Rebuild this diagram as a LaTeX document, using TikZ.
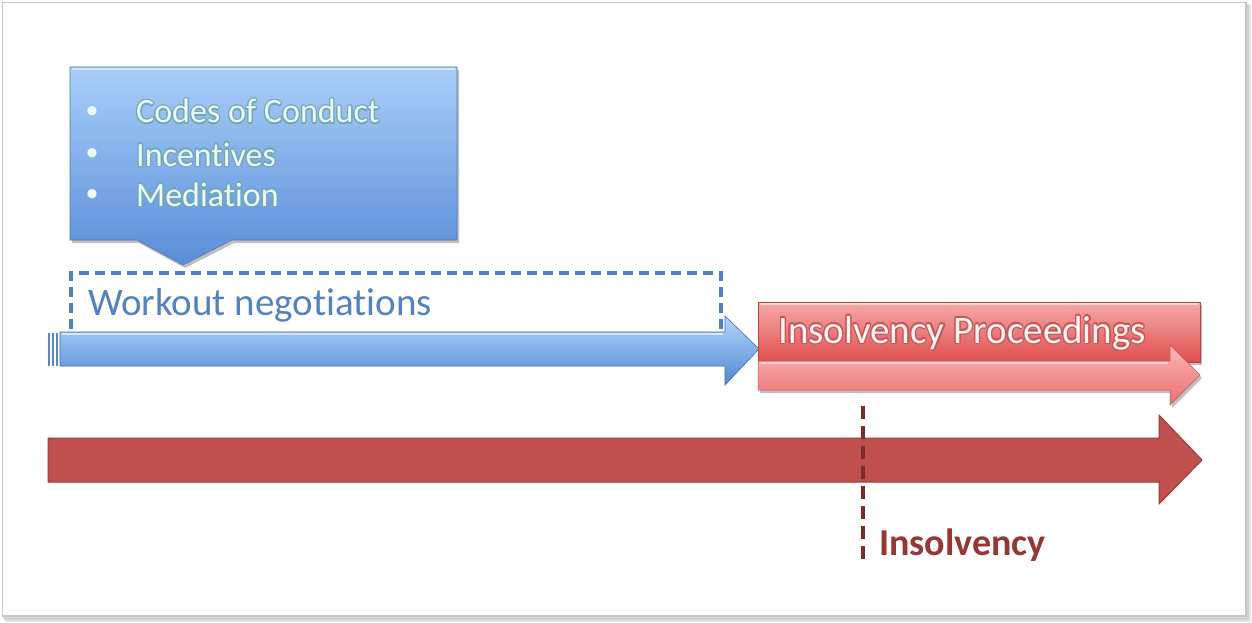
\documentclass[tikz,border=0pt]{standalone}
\usepackage{fontspec}
\setmainfont{Carlito}[Ligatures={NoCommon,NoContextual}]
\usepackage{contour}
\contourlength{1.2pt}
\usetikzlibrary{shadows,calc}
\definecolor{calltop}{HTML}{A9CEF9}
\definecolor{callbot}{HTML}{5A8DD8}
\definecolor{dashblue}{HTML}{4F81BD}
\definecolor{wtext}{HTML}{5283BE}
\definecolor{bartop}{HTML}{B4D6FB}
\definecolor{barbot}{HTML}{5088D2}
\definecolor{boxtop}{HTML}{F6A9A9}
\definecolor{boxbot}{HTML}{E04E4E}
\definecolor{rarrtop}{HTML}{F9B8B8}
\definecolor{rarrbot}{HTML}{EE6E6E}
\definecolor{bigred}{HTML}{C0504D}
\definecolor{bigredline}{HTML}{9A3B39}
\definecolor{insline}{HTML}{7A2B2B}
\definecolor{instext}{HTML}{953735}
\definecolor{bullettext}{HTML}{EEFAF8}
\definecolor{bulletglow}{HTML}{6FA9B6}
\definecolor{proctext}{HTML}{FFF4F4}
\definecolor{procglow}{HTML}{C85656}
\tikzset{
  bulletitem/.style={anchor=base west, inner sep=0pt, font=\fontsize{34}{38}\selectfont, text=bullettext},
  bulletdot/.style={anchor=center, inner sep=0pt, font=\fontsize{26}{30}\selectfont, text=bullettext},
  softshadow/.style={drop shadow={shadow xshift=2pt, shadow yshift=-3pt, opacity=0.25, fill=black}},
}
\begin{document}
\begin{tikzpicture}[x=1pt,y=-1pt]
\useasboundingbox (0,0) rectangle (1252,623);
% frame with shadow
\fill[black!10] (5,5) rectangle (1251,622);
\fill[black!18] (4,4) rectangle (1249,620);
\draw[fill=white, draw=black!22, line width=1.2pt] (2.5,2.5) rectangle (1246,616);

% callout
\path[softshadow, top color=calltop, bottom color=callbot, draw=callbot!85!black, line width=0.6pt]
  (70,67) -- (457,67) -- (457,240) -- (232,240) -- (183,265) -- (137,240) -- (70,240) -- cycle;
\draw[white, opacity=0.5, line width=1.5pt] (72,69) -- (455,69);

\node[bulletdot] (b1) at (92,113) {•};
\node[bulletdot] (b2) at (92,155) {•};
\node[bulletdot] (b3) at (92,196) {•};
\node[bulletitem] (t1) at (136,123) {\contour{bulletglow}{Codes of Conduct}};
\node[bulletitem] (t2) at (136,166) {\contour{bulletglow}{Incentives}};
\node[bulletitem] (t3) at (136,206) {\contour{bulletglow}{Mediation}};

% dashed workout box
\draw[dashblue, line width=3.4pt, dash pattern=on 10pt off 6pt] (71,345) -- (71,273) -- (721,273) -- (721,345);
\node[anchor=base west, inner sep=0pt, font=\fontsize{39}{43}\selectfont, text=wtext] (work) at (88,315) {Workout negotiations};

% blue arrow
\path[top color=bartop, bottom color=barbot, draw=barbot!80!black, line width=0.6pt]
  (60,332) -- (725,332) -- (725,316) -- (759,349) -- (725,385) -- (725,366) -- (60,366) -- cycle;
\draw[white, opacity=0.6, line width=1.5pt] (62,334) -- (723,334);
\fill[barbot!80!gray] (48,333) rectangle (50,366);
\fill[barbot!80!gray] (52,333) rectangle (54,366);
\fill[barbot!80!gray] (56,333) rectangle (58,366);

% red proceedings box
\path[softshadow, top color=boxtop, bottom color=boxbot, draw=boxbot!85!black, line width=0.5pt]
  (758,302) rectangle (1200,362);
\draw[white, opacity=0.55, line width=1.5pt] (760,304) -- (1198,304);
\node[anchor=base west, inner sep=0pt, font=\fontsize{39}{43}\selectfont, text=proctext] (proc) at (778,343) {\contour{procglow}{Insolvency Proceedings}};
% red arrow under box
\path[softshadow, top color=rarrtop, bottom color=rarrbot, draw=rarrbot!80!black, line width=0.5pt]
  (758,361) -- (1170,361) -- (1170,345) -- (1200,375) -- (1170,405) -- (1170,390) -- (758,390) -- cycle;
\draw[white, opacity=0.5, line width=1.5pt] (760,363) -- (1168,363);

% big red timeline arrow
\path[fill=bigred, draw=bigredline, line width=1pt]
  (48,438) -- (1159,438) -- (1159,415) -- (1202,460) -- (1159,504) -- (1159,482) -- (48,482) -- cycle;

% insolvency marker
\coordinate (mtop) at (863,406);
\coordinate (mbot) at (863,562);
\draw[insline, line width=3.8pt, dash pattern=on 13pt off 7pt] (mtop) -- (mbot);
\node[anchor=base west, inner sep=0pt, font=\bfseries\fontsize{38}{42}\selectfont, text=instext] (ins) at (879,555) {Insolvency};
\end{tikzpicture}
\end{document}
